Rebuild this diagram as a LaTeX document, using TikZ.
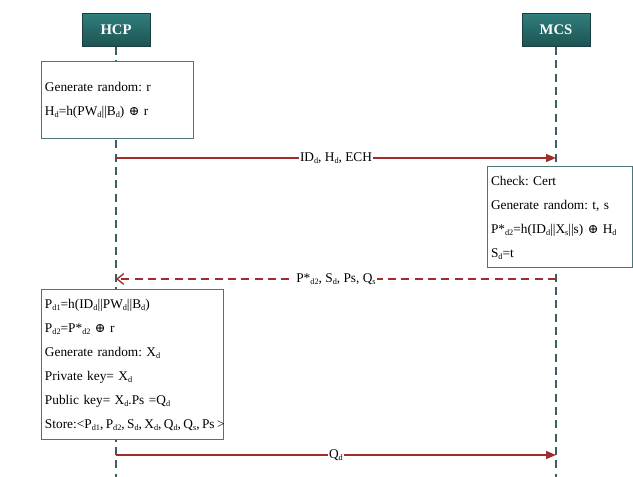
\documentclass[tikz,border=0pt]{standalone}
\usepackage{fontspec}
\setmainfont{Liberation Serif}
\newfontfamily\symfont{DejaVu Serif}
\usetikzlibrary{arrows.meta,positioning}

\definecolor{headtop}{HTML}{2F7E7D}
\definecolor{headbot}{HTML}{1D5352}
\definecolor{headline}{HTML}{1A3F40}
\definecolor{lifeline}{HTML}{3A5E62}
\definecolor{boxline}{HTML}{4D7477}
\definecolor{msgred}{HTML}{A02C2C}

% small lowered index
\newcommand{\idx}[1]{\raisebox{-0.35ex}{\fontsize{6.2}{7}\selectfont #1}}
\newcommand{\xr}{{\symfont\fontsize{9.5}{10}\selectfont ⊕}}

\begin{document}
\frenchspacing
\begin{tikzpicture}[
    x=0.75pt,
    y=-0.75pt,
    head/.style={
        draw=headline,
        line width=0.6pt,
        top color=headtop,
        bottom color=headbot,
        text=white,
        font=\fontsize{11}{13}\selectfont\bfseries,
        minimum width=51pt,
        minimum height=24.75pt
    },
    life/.style={lifeline,line width=0.9pt,dash pattern=on 6pt off 4pt},
    msgbox/.style={
        draw=boxline,
        line width=0.75pt,
        fill=white,
        align=left,
        inner xsep=3pt,
        font=\fontsize{10}{18}\selectfont
    },
    send/.style={-{Triangle[length=7.5pt,width=6pt]},msgred,line width=1pt},
    reply/.style={-{Straight Barb[length=5pt,width=8pt]},msgred,line width=1pt,dash pattern=on 6pt off 4pt},
    lbl/.style={fill=white,text=black,inner sep=1pt,font=\fontsize{10}{12}\selectfont}
]
\useasboundingbox (0,0) rectangle (633,477);

% Participants and lifelines.
\node[head] (hcp) at (116,30) {HCP};
\node[head] (mcs) at (556,30) {MCS};
\coordinate (hcpend) at (116,477);
\coordinate (mcsend) at (556,477);
\draw[life] (hcp) -- (hcpend);
\draw[life] (mcs) -- (mcsend);

% Registration request.
\node[msgbox,text width=108pt,minimum height=57.75pt] (gen) at (117,100.5)
    {Generate random: r\\H\idx{d}=h(PW\idx{d}||B\idx{d}) \xr{} r};

\coordinate (h1) at (116,158);
\coordinate (s1) at (556,158);
\draw[send] (h1) -- node[lbl] {ID\idx{d}, H\idx{d}, ECH} (s1);

% Server side.
\node[msgbox,text width=102.75pt,minimum height=75.75pt] (check) at (559.5,217.5)
    {Check: Cert\\Generate random: t, s\\P*\idx{d2}=h(ID\idx{d}||X\idx{s}||s) \xr{} H\idx{d}\\S\idx{d}=t};

\coordinate (s2) at (556,279);
\coordinate (h2) at (116,279);
\draw[reply] (s2) -- node[lbl] {P*\idx{d2}, S\idx{d}, Ps, Q\idx{s}} (h2);

% Key generation and storage.
\node[msgbox,text width=130.5pt,minimum height=112.5pt] (store) at (132,365)
    {P\idx{d1}=h(ID\idx{d}||PW\idx{d}||B\idx{d})\\
     P\idx{d2}=P*\idx{d2} \xr{} r\\
     Generate random: X\idx{d}\\
     Private key= X\idx{d}\\
     Public key= X\idx{d}.Ps =Q\idx{d}\\
     \mbox{\spaceskip=1.8pt Store:<P\idx{d1}, P\idx{d2}, S\idx{d}, X\idx{d}, Q\idx{d}, Q\idx{s}, Ps >}};

\coordinate (h3) at (116,455);
\coordinate (s3) at (556,455);
\draw[send] (h3) -- node[lbl] {Q\idx{d}} (s3);

\end{tikzpicture}
\end{document}
